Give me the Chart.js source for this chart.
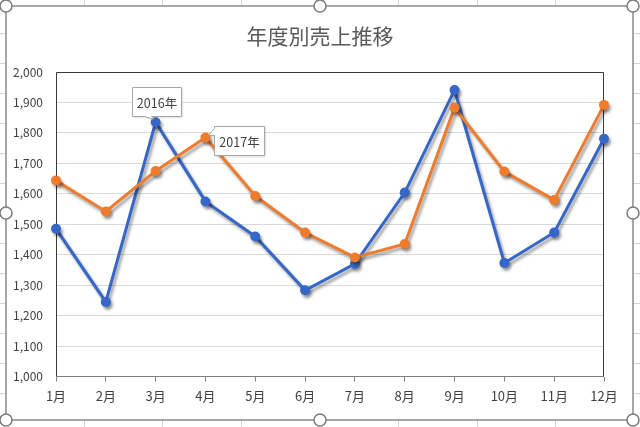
<!DOCTYPE html>
<html>
<head>
<meta charset="utf-8">
<script src="https://cdn.jsdelivr.net/npm/chart.js@4.4.1/dist/chart.umd.min.js"></script>
<style>
  html, body { margin: 0; padding: 0; background: #ffffff; }
  #wrap { width: 640px; height: 427px; position: relative; }
</style>
</head>
<body>
<div id="wrap"><canvas id="c" width="640" height="427"></canvas></div>
<script>
const categories = ['1月','2月','3月','4月','5月','6月','7月','8月','9月','10月','11月','12月'];
const seriesNames = ['2016年', '2017年'];
const sales2016 = [1485, 1245, 1835, 1575, 1460, 1283, 1370, 1604, 1941, 1373, 1473, 1781];
const sales2017 = [1644, 1542, 1675, 1785, 1593, 1473, 1391, 1435, 1883, 1673, 1580, 1892];
const yMin = 1000, yMax = 2000, yStep = 100;
const titleText = '年度別売上推移';

const FONT = '"Noto Sans CJK JP", "Noto Sans", sans-serif';
const BLUE = '#3567C8';
const ORANGE = '#EF7B2D';

const bgPlugin = {
  id: 'bgPlugin',
  beforeDraw(chart) {
    const ctx = chart.ctx;
    ctx.save();
    ctx.fillStyle = '#ffffff';
    ctx.fillRect(0, 0, chart.width, chart.height);
    // spreadsheet cell lines outside the chart frame
    ctx.strokeStyle = '#d4d4d4';
    ctx.lineWidth = 1;
    const cols = [84, 162, 241, 398, 477, 555];
    cols.forEach(x => {
      ctx.beginPath(); ctx.moveTo(x + 0.5, 0); ctx.lineTo(x + 0.5, 6); ctx.stroke();
      ctx.beginPath(); ctx.moveTo(x + 0.5, 420); ctx.lineTo(x + 0.5, 427); ctx.stroke();
    });
    for (let y = 33; y < 420; y += 30) {
      if (y === 213) continue;
      ctx.beginPath(); ctx.moveTo(0, y + 0.5); ctx.lineTo(6, y + 0.5); ctx.stroke();
      ctx.beginPath(); ctx.moveTo(633, y + 0.5); ctx.lineTo(640, y + 0.5); ctx.stroke();
    }
    // chart title, centred on the chart frame
    ctx.fillStyle = '#595959';
    ctx.font = '21px ' + FONT;
    ctx.textAlign = 'center';
    ctx.textBaseline = 'middle';
    ctx.fillText(titleText, 320, 36);
    ctx.restore();
  },
  beforeDatasetsDraw(chart) {
    const { ctx, chartArea: a } = chart;
    ctx.save();
    ctx.lineWidth = 1;
    ctx.strokeStyle = '#3a3a3a';
    ctx.beginPath();
    ctx.moveTo(a.left + 0.5, a.bottom);
    ctx.lineTo(a.left + 0.5, a.top + 0.5);
    ctx.lineTo(a.right - 0.5, a.top + 0.5);
    ctx.lineTo(a.right - 0.5, a.bottom);
    ctx.stroke();
    ctx.strokeStyle = '#7f7f7f';
    ctx.beginPath();
    ctx.moveTo(a.left, a.bottom);
    ctx.lineTo(a.right, a.bottom);
    ctx.stroke();
    ctx.restore();
  },
  afterDraw(chart) {
    const ctx = chart.ctx;
    ctx.save();
    // chart frame
    ctx.strokeStyle = '#8a8a8a';
    ctx.lineWidth = 1.5;
    ctx.strokeRect(6, 6, 627, 414);
    // selection handles
    const handles = [[6,6],[320,6],[633,6],[6,213],[633,213],[6,420],[320,420],[633,420]];
    handles.forEach(([x, y]) => {
      ctx.beginPath();
      ctx.arc(x, y, 6, 0, Math.PI * 2);
      ctx.fillStyle = '#ffffff';
      ctx.fill();
      ctx.strokeStyle = '#7a7a7a';
      ctx.lineWidth = 1.5;
      ctx.stroke();
    });
    ctx.restore();
  }
};

const shadowPlugin = {
  id: 'shadowPlugin',
  beforeDatasetDraw(chart) {
    const ctx = chart.ctx;
    ctx.save();
    ctx.shadowColor = 'rgba(0,0,0,0.38)';
    ctx.shadowBlur = 3;
    ctx.shadowOffsetX = 2;
    ctx.shadowOffsetY = 3;
  },
  afterDatasetDraw(chart) {
    chart.ctx.restore();
  }
};

function drawCallout(ctx, box, tail, text) {
  const [x0, y0, w, h] = box;
  const x1 = x0 + w, y1 = y0 + h;
  ctx.save();
  ctx.beginPath();
  if (tail.side === 'bottom') {
    ctx.moveTo(x0, y0);
    ctx.lineTo(x1, y0);
    ctx.lineTo(x1, y1);
    ctx.lineTo(tail.b, y1);
    ctx.lineTo(tail.tx, tail.ty);
    ctx.lineTo(tail.a, y1);
    ctx.lineTo(x0, y1);
  } else {
    ctx.moveTo(x0, y0);
    ctx.lineTo(x1, y0);
    ctx.lineTo(x1, y1);
    ctx.lineTo(x0, y1);
    ctx.lineTo(x0, tail.b);
    ctx.lineTo(tail.tx, tail.ty);
    ctx.lineTo(x0, tail.a);
  }
  ctx.closePath();
  ctx.shadowColor = 'rgba(0,0,0,0.18)';
  ctx.shadowBlur = 2;
  ctx.shadowOffsetX = 1;
  ctx.shadowOffsetY = 1;
  ctx.fillStyle = '#ffffff';
  ctx.fill();
  ctx.shadowColor = 'transparent';
  ctx.strokeStyle = '#a6a6a6';
  ctx.lineWidth = 1;
  ctx.stroke();
  ctx.fillStyle = '#404040';
  ctx.font = '12.5px ' + FONT;
  ctx.textAlign = 'center';
  ctx.textBaseline = 'middle';
  ctx.fillText(text, (x0 + x1) / 2, (y0 + y1) / 2 + 1);
  ctx.restore();
}

const calloutPlugin = {
  id: 'calloutPlugin',
  afterDatasetsDraw(chart) {
    const ctx = chart.ctx;
    const p0 = chart.getDatasetMeta(0).data[2];
    const p1 = chart.getDatasetMeta(1).data[3];
    if (p0) {
      const bx = Math.round(p0.x - 24) + 0.5, by = Math.round(p0.y - 35) + 0.5;
      drawCallout(ctx, [bx, by, 49, 29],
        { side: 'bottom', a: bx + 12, b: bx + 19, tx: p0.x - 2, ty: p0.y - 3 }, seriesNames[0]);
    }
    if (p1) {
      const bx = Math.round(p1.x + 9) + 0.5, by = Math.round(p1.y - 11) + 0.5;
      drawCallout(ctx, [bx, by, 50, 29],
        { side: 'left', a: by + 2, b: by + 9, tx: p1.x + 3, ty: p1.y - 2 }, seriesNames[1]);
    }
  }
};

new Chart(document.getElementById('c'), {
  type: 'line',
  data: {
    labels: categories,
    datasets: [
      {
        label: seriesNames[0],
        data: sales2016,
        borderColor: BLUE,
        backgroundColor: BLUE,
        borderWidth: 3,
        pointRadius: 5,
        pointBorderWidth: 0,
        pointBackgroundColor: BLUE,
        tension: 0,
        clip: false,
        order: 1
      },
      {
        label: seriesNames[1],
        data: sales2017,
        borderColor: ORANGE,
        backgroundColor: ORANGE,
        borderWidth: 3,
        pointRadius: 5,
        pointBorderWidth: 0,
        pointBackgroundColor: ORANGE,
        tension: 0,
        clip: false,
        order: 0
      }
    ]
  },
  options: {
    responsive: false,
    animation: false,
    devicePixelRatio: 1,
    layout: { padding: { left: 0, right: 36, top: 72, bottom: 0 } },
    plugins: {
      legend: { display: false },
      tooltip: { enabled: false },
      title: { display: false }
    },
    scales: {
      x: {
        type: 'category',
        offset: false,
        grid: { display: true, drawOnChartArea: false, drawTicks: true, tickLength: 5, color: '#808080', offset: false },
        border: { display: false },
        ticks: { color: '#404040', font: { family: FONT, size: 13 }, padding: 7, maxRotation: 0, autoSkip: false },
        afterFit(scale) { scale.height = 50.5; }
      },
      y: {
        min: yMin,
        max: yMax,
        grid: { color: '#d9d9d9', lineWidth: 1, drawTicks: false },
        border: { display: false },
        ticks: {
          stepSize: yStep,
          color: '#404040',
          font: { family: FONT, size: 12 },
          padding: 13,
          callback: v => v.toLocaleString('en-US')
        },
        afterFit(scale) { scale.width = 56; }
      }
    }
  },
  plugins: [bgPlugin, shadowPlugin, calloutPlugin]
});
</script>
</body>
</html>
